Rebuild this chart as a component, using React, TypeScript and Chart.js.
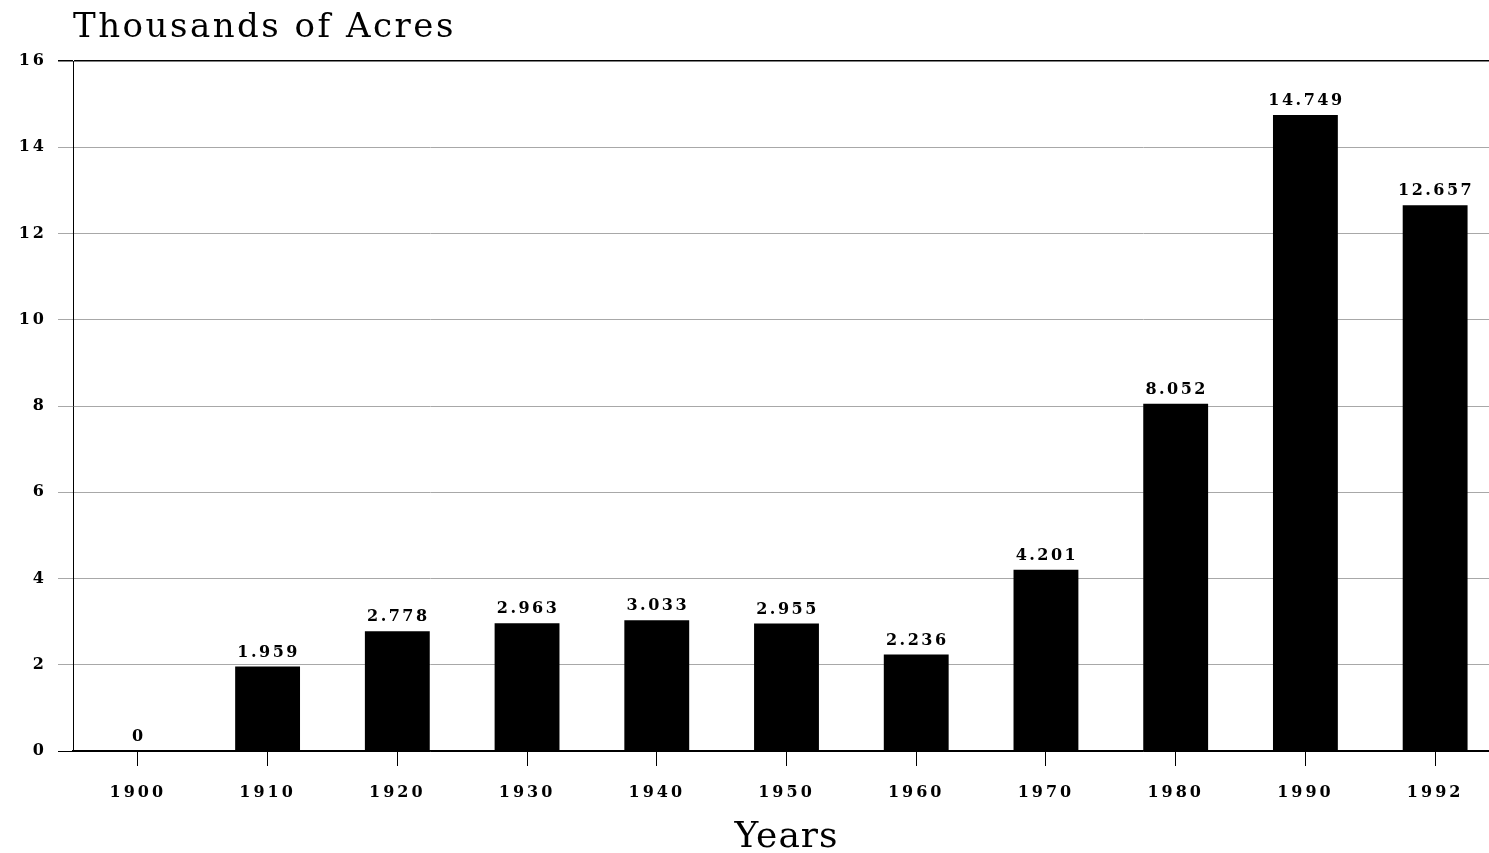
import React, { useEffect, useRef } from "react";
import { Chart, registerables } from "chart.js";

Chart.register(...registerables);

const years = ["1900", "1910", "1920", "1930", "1940", "1950", "1960", "1970", "1980", "1990", "1992"];
const acres = [0, 1.959, 2.778, 2.963, 3.033, 2.955, 2.236, 4.201, 8.052, 14.749, 12.657];
const valueLabels = ["0", "1.959", "2.778", "2.963", "3.033", "2.955", "2.236", "4.201", "8.052", "14.749", "12.657"];
const yTitle = "Thousands of Acres";
const xTitle = "Years";

const FONT = "'DejaVu Serif', serif";

const spacingPlugin = {
  id: "spacing",
  beforeDraw(chart: any) {
    (chart.ctx as any).letterSpacing = "3px";
  },
};

const labelsPlugin = {
  id: "labelsAndTitles",
  afterDraw(chart: any) {
    const ctx = chart.ctx as any;
    const area = chart.chartArea;
    ctx.save();
    ctx.fillStyle = "#000";
    // value labels above bars
    ctx.font = `bold 16px ${FONT}`;
    ctx.letterSpacing = "2.5px";
    ctx.textAlign = "center";
    ctx.textBaseline = "bottom";
    const meta = chart.getDatasetMeta(0);
    meta.data.forEach((bar: any, i: number) => {
      ctx.fillText(valueLabels[i], bar.x + 1, bar.y - 6);
    });
    // top-left title
    ctx.font = `normal 34px ${FONT}`;
    ctx.letterSpacing = "2.5px";
    ctx.textAlign = "left";
    ctx.textBaseline = "alphabetic";
    ctx.fillText(yTitle, area.left, 37);
    // bottom title
    ctx.font = `normal 36px ${FONT}`;
    ctx.letterSpacing = "1px";
    ctx.textAlign = "center";
    ctx.fillText(xTitle, (area.left + area.right) / 2, 847);
    ctx.restore();
  },
};

export default function App() {
  const ref = useRef<HTMLCanvasElement | null>(null);
  useEffect(() => {
    if (!ref.current) return;
    const chart = new Chart(ref.current, {
      type: "bar",
      data: {
        labels: years,
        datasets: [
          {
            data: acres,
            backgroundColor: "#000",
            borderWidth: 0,
            barPercentage: 0.5,
            categoryPercentage: 1,
          },
        ],
      },
      options: {
        animation: false,
        responsive: false,
        devicePixelRatio: 1,
        layout: { padding: { top: 61, left: 0, right: 0, bottom: 0 } },
        plugins: { legend: { display: false }, tooltip: { enabled: false }, title: { display: false } },
        scales: {
          x: {
            offset: true,
            grid: {
              offset: false,
              drawOnChartArea: false,
              drawTicks: true,
              tickLength: 15,
              color: "#000",
            },
            border: { display: true, color: "#000", width: 1.5 },
            ticks: {
              color: "#000",
              font: { family: FONT, size: 16, weight: "bold" },
              padding: 17,
              maxRotation: 0,
            },
            afterFit(scale: any) {
              scale.height = 102;
            },
          },
          y: {
            min: 0,
            max: 16,
            ticks: {
              stepSize: 2,
              color: "#000",
              font: { family: FONT, size: 16, weight: "bold" },
              padding: 11,
            },
            grid: {
              tickLength: 15,
              color: (c: any) => (c.tick && (c.tick.value === 16 || c.tick.value === 0) ? "#000" : "#a8a8a8"),
              lineWidth: (c: any) => (c.tick && c.tick.value === 16 ? 1.5 : 1),
            },
            border: { display: true, color: "#000", width: 1 },
            afterFit(scale: any) {
              scale.width = 73;
            },
          },
        },
      },
      plugins: [spacingPlugin, labelsPlugin],
    } as any);
    return () => chart.destroy();
  }, []);
  return (
    <div style={{ position: "fixed", left: 0, top: 0, width: 1489, height: 853, overflow: "hidden", background: "#fff" }}>
      <canvas ref={ref} width={1500} height={853} style={{ display: "block" }} />
    </div>
  );
}
